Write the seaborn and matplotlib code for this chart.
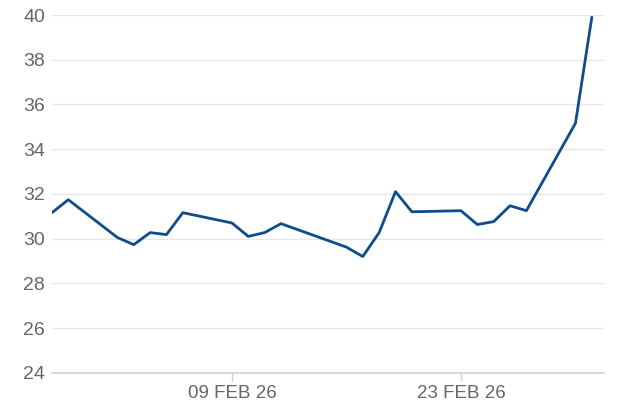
import numpy as np
import pandas as pd
import matplotlib
matplotlib.use("Agg")
import matplotlib.pyplot as plt
import matplotlib.dates as mdates
import seaborn as sns

# trading days and closing values
dates = ["2026-01-29", "2026-01-30", "2026-02-02", "2026-02-03", "2026-02-04",
         "2026-02-05", "2026-02-06", "2026-02-09", "2026-02-10", "2026-02-11",
         "2026-02-12", "2026-02-16", "2026-02-17", "2026-02-18", "2026-02-19",
         "2026-02-20", "2026-02-23", "2026-02-24", "2026-02-25", "2026-02-26",
         "2026-02-27", "2026-03-02", "2026-03-03"]
values = [31.16, 31.74, 30.05, 29.73, 30.27,
          30.18, 31.16, 30.70, 30.10, 30.27,
          30.67, 29.62, 29.20, 30.27, 32.10,
          31.20, 31.25, 30.63, 30.76, 31.47,
          31.25, 35.16, 39.90]

tick_dates = ["2026-02-09", "2026-02-23"]
tick_labels = ["09 FEB 26", "23 FEB 26"]
y_ticks = [24, 26, 28, 30, 32, 34, 36, 38, 40]

df = pd.DataFrame({"date": pd.to_datetime(dates), "value": values})

sns.set_theme(style="white")
plt.rcParams["font.family"] = ["Liberation Sans", "DejaVu Sans"]

fig = plt.figure(figsize=(6.26, 4.17), dpi=100)
ax = fig.add_axes([0.083, 0.106, 0.882, 0.858])

sns.lineplot(data=df, x="date", y="value", ax=ax, color="#0f4c8a", linewidth=2.0)

ax.set_ylim(24, 40)
ax.set_yticks(y_ticks)
ax.set_yticklabels([str(v) for v in y_ticks])
ax.set_xlim(pd.Timestamp("2026-01-29"), pd.Timestamp("2026-03-03") + pd.Timedelta(hours=18))
ax.set_xticks(pd.to_datetime(tick_dates))
ax.set_xticklabels(tick_labels)

ax.grid(axis="y", color="#e6e6e6", linewidth=1.0)
ax.grid(axis="x", visible=False)
for side in ["top", "right", "left"]:
    ax.spines[side].set_visible(False)
ax.spines["bottom"].set_color("#ccd3dc")
ax.spines["bottom"].set_linewidth(1.2)

ax.tick_params(axis="y", length=0, pad=5, labelsize=14, labelcolor="#666666")
ax.tick_params(axis="x", length=6, width=1, color="#ccd3dc", pad=3,
               labelsize=13.5, labelcolor="#666666", bottom=True)
ax.set_xlabel("")
ax.set_ylabel("")

fig.savefig("out.png", dpi=100)
